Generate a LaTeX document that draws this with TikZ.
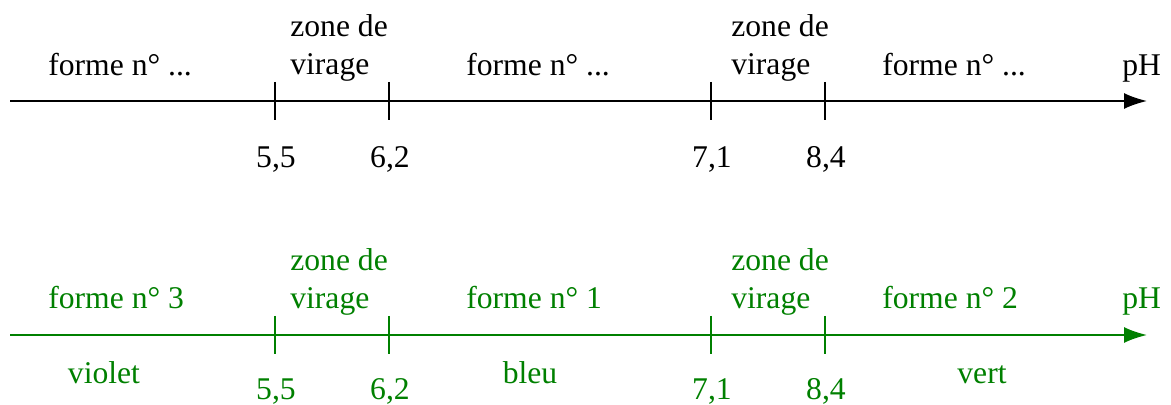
\documentclass[tikz,border=0pt]{standalone}
\usepackage{fontspec}
\setmainfont{LiberationSerif}[Extension=.ttf,UprightFont=*-Regular]
\usetikzlibrary{arrows.meta,positioning}
\definecolor{vertfonce}{RGB}{0,128,0}
\tikzstyle{axe}=[line width=1pt,-{Latex[length=13pt,width=9pt]}]
\tikzstyle{graduation}=[line width=1pt]

\begin{document}
\begin{tikzpicture}[
  x=0.02cm,y=-0.02cm,
  txt/.style={font=\fontsize{18}{21}\selectfont,inner sep=0pt,anchor=base west},
  val/.style={font=\fontsize{18}{21}\selectfont,inner sep=0pt,anchor=base},
]
\useasboundingbox (0,0) rectangle (1171,405);

% axe du haut
\coordinate (h0) at (10,101);
\coordinate (h1) at (1147,101);
\coordinate (h55) at (275,101);
\coordinate (h62) at (389,101);
\coordinate (h71) at (711,101);
\coordinate (h84) at (825,101);
\draw[axe] (h0) -- (h1);
\draw[graduation] (h55) ++(0,-19) -- ++(0,38);
\draw[graduation] (h62) ++(0,-19) -- ++(0,38);
\draw[graduation] (h71) ++(0,-19) -- ++(0,38);
\draw[graduation] (h84) ++(0,-19) -- ++(0,38);

\node[txt] (hf1) at (48,76) {forme n° ...};
\node[txt] (hz1) at (290,37) {zone de};
\node[txt] (hv1) at (290,75) {virage};
\node[txt] (hf2) at (466,76) {forme n° ...};
\node[txt] (hz2) at (731,37) {zone de};
\node[txt] (hv2) at (731,75) {virage};
\node[txt] (hf3) at (882,76) {forme n° ...};
\node[txt] (hph) at (1122,76) {pH};
\node[val] (hl55) at (276,168) {5,5};
\node[val] (hl62) at (390,168) {6,2};
\node[val] (hl71) at (712,168) {7,1};
\node[val] (hl84) at (826,168) {8,4};

% axe du bas
\begin{scope}[vertfonce]
\coordinate (b0) at (10,335);
\coordinate (b1) at (1147,335);
\coordinate (b55) at (275,335);
\coordinate (b62) at (389,335);
\coordinate (b71) at (711,335);
\coordinate (b84) at (825,335);
\draw[axe] (b0) -- (b1);
\draw[graduation] (b55) ++(0,-19) -- ++(0,38);
\draw[graduation] (b62) ++(0,-19) -- ++(0,38);
\draw[graduation] (b71) ++(0,-19) -- ++(0,38);
\draw[graduation] (b84) ++(0,-19) -- ++(0,38);

\node[txt] (bf3) at (48,309) {forme n° 3};
\node[txt] (bz1) at (290,271) {zone de};
\node[txt] (bv1) at (290,309) {virage};
\node[txt] (bf1) at (466,309) {forme n° 1};
\node[txt] (bz2) at (731,271) {zone de};
\node[txt] (bv2) at (731,309) {virage};
\node[txt] (bf2) at (882,309) {forme n° 2};
\node[txt] (bph) at (1122,309) {pH};
\node[val] (bc3) at (104,384) {violet};
\node[val] (bc1) at (530,384) {bleu};
\node[val] (bc2) at (982,384) {vert};
\node[val] (bl55) at (276,400) {5,5};
\node[val] (bl62) at (390,400) {6,2};
\node[val] (bl71) at (712,400) {7,1};
\node[val] (bl84) at (826,400) {8,4};
\end{scope}
\end{tikzpicture}
\end{document}
